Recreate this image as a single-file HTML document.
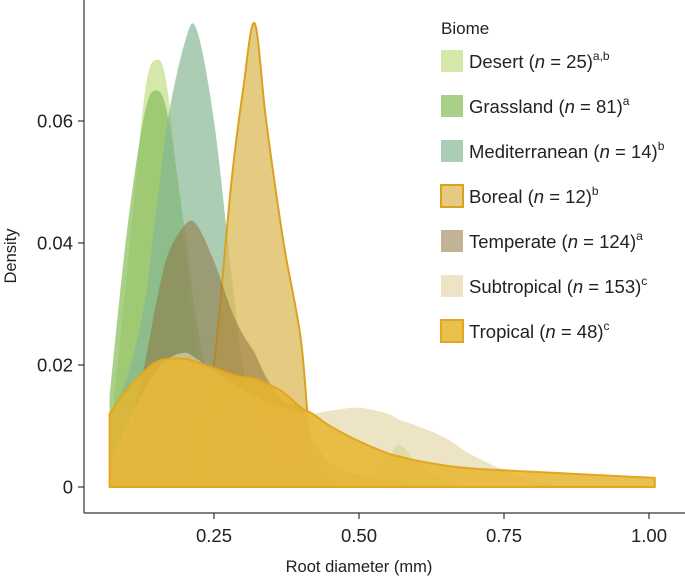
<!DOCTYPE html>
<html><head><meta charset="utf-8"><style>
body{margin:0;background:#fff;}
svg text{font-family:"Liberation Sans",Arial,sans-serif;fill:#222;}
</style></head><body>
<svg id="chart" width="685" height="577" viewBox="0 0 685 577" xmlns="http://www.w3.org/2000/svg">
<g id="plot"></g>
<g id="axes"></g>
<g id="legend"></g>
</svg>
<script>
const grid = [0.07,0.10,0.13,0.15,0.17,0.20,0.22,0.25,0.28,0.30,0.32,0.34,0.37,0.40,0.42,0.45,0.50,0.55,0.57,0.60,0.65,0.70,0.80,0.90,1.01];
const desert = [0.008,0.035,0.064,0.070,0.065,0.038,0.022,0.011,0.006,0.004,0.004,0.003,0.003,0.002,0.002,0.001,0.001,0.005,0.007,0.004,0.001,0,0,0,0];
const grassland = [0.015,0.042,0.061,0.065,0.061,0.042,0.027,0.013,0.006,0.004,0.004,0.003,0.003,0.002,0.002,0.001,0,0,0,0,0,0,0,0,0];
const mediterranean = [0.012,0.018,0.03,0.045,0.06,0.073,0.075,0.06,0.035,0.02,0.01,0.005,0.002,0.001,0,0,0,0,0,0,0,0,0,0,0];
const boreal = [0,0,0,0,0,0,0.002,0.02,0.05,0.065,0.076,0.06,0.04,0.024,0.004,0,0,0,0,0,0,0,0,0,0];
const temperate = [0.002,0.008,0.02,0.03,0.038,0.043,0.043,0.037,0.029,0.025,0.022,0.018,0.014,0.013,0.008,0.004,0.002,0.001,0.001,0,0,0,0,0,0];
const subtropical = [0.004,0.01,0.016,0.019,0.021,0.022,0.021,0.019,0.017,0.016,0.015,0.014,0.013,0.012,0.012,0.0125,0.013,0.012,0.011,0.010,0.008,0.005,0.001,0,0];
const tropical = [0.012,0.016,0.019,0.0205,0.021,0.021,0.0205,0.0195,0.0185,0.018,0.0178,0.017,0.0155,0.013,0.012,0.01,0.0075,0.0055,0.005,0.0043,0.0035,0.003,0.0025,0.002,0.0015];
const seriesNames = ["Desert","Grassland","Mediterranean","Boreal","Temperate","Subtropical","Tropical"];
const seriesN = ["25","81","14","12","124","153","48"];
const seriesSup = ["a,b","a","b","b","a","c","c"];
const xTicks = [0.25,0.50,0.75,1.00];
const xTickLabels = ["0.25","0.50","0.75","1.00"];
const yTicks = [0,0.02,0.04,0.06];
const yTickLabels = ["0","0.02","0.04","0.06"];

const NS="http://www.w3.org/2000/svg";
const xs = v => 69 + v*580;
const ys = v => 487 - v*6100;
const styles = [
 {fill:"#c8df8e",op:0.75,stroke:"none"},
 {fill:"#8cc060",op:0.75,stroke:"none"},
 {fill:"#86b894",op:0.7,stroke:"none"},
 {fill:"#dcb957",op:0.75,stroke:"#d9a21f"},
 {fill:"#8f7440",op:0.55,stroke:"none"},
 {fill:"#e3d6a6",op:0.65,stroke:"none"},
 {fill:"#e6b52e",op:0.85,stroke:"#e3a620"}
];
const allData=[desert,grassland,mediterranean,boreal,temperate,subtropical,tropical];
function mk(tag,attrs,parent){const e=document.createElementNS(NS,tag);for(const k in attrs)e.setAttribute(k,attrs[k]);parent.appendChild(e);return e;}
function curve(vals){
  const pts=grid.map((g,i)=>[xs(g),ys(vals[i])]);
  let d=`M${xs(grid[0])},${ys(0)}L${pts[0][0]},${pts[0][1]}`;
  for(let i=0;i<pts.length-1;i++){
    const p0=pts[Math.max(0,i-1)],p1=pts[i],p2=pts[i+1],p3=pts[Math.min(pts.length-1,i+2)];
    let c1y=p1[1]+(p2[1]-p0[1])/6, c2y=p2[1]-(p3[1]-p1[1])/6;
    c1y=Math.min(c1y,487); c2y=Math.min(c2y,487);
    d+=`C${p1[0]+(p2[0]-p0[0])/6},${c1y} ${p2[0]-(p3[0]-p1[0])/6},${c2y} ${p2[0]},${p2[1]}`;
  }
  d+=`L${xs(grid[grid.length-1])},${ys(0)}Z`;
  return d;
}
const plot=document.getElementById('plot');
allData.forEach((vals,i)=>{
  const s=styles[i];
  const p=mk('path',{d:curve(vals),fill:s.fill,'fill-opacity':s.op,stroke:s.stroke,'stroke-width':2,'stroke-linejoin':'round'},plot);
  
  
});
const axes=document.getElementById('axes');
const yl=mk('line',{x1:84,y1:0,x2:84,y2:513,stroke:'#333','stroke-width':1.2},axes);


const xl=mk('line',{x1:84,y1:513,x2:685,y2:513,stroke:'#333','stroke-width':1.2},axes);


yTicks.forEach((t,i)=>{
  const tk=mk('line',{x1:78,x2:84,y1:ys(t),y2:ys(t),stroke:'#333','stroke-width':1.2},axes);
  
  
  const tx=mk('text',{x:73,y:ys(t)+6.5,'text-anchor':'end','font-size':18.5},axes);
  tx.textContent=yTickLabels[i];
  
  
});
xTicks.forEach((t,i)=>{
  const tk=mk('line',{x1:xs(t),x2:xs(t),y1:513,y2:519,stroke:'#333','stroke-width':1.2},axes);
  
  
  const tx=mk('text',{x:xs(t),y:542,'text-anchor':'middle','font-size':18.5},axes);
  tx.textContent=xTickLabels[i];
  
  
});
const xt=mk('text',{x:359,y:572,'text-anchor':'middle','font-size':16.5},axes);
xt.textContent='Root diameter (mm)';


const yt=mk('text',{x:0,y:0,'text-anchor':'middle','font-size':16.5,transform:'translate(16,256) rotate(-90)'},axes);
yt.textContent='Density';



const lg=document.getElementById('legend');
const lt=mk('text',{x:441,y:34,'font-size':17},lg);
lt.textContent='Biome';


seriesNames.forEach((n,i)=>{
  const cy=61+i*45, s=styles[i];
  const g=mk('g',{},lg);
  
  
  mk('rect',{x:441,y:cy-11,width:22,height:22,fill:s.fill,'fill-opacity':s.op,stroke:s.stroke,'stroke-width':2},g);
  const t=mk('text',{x:469,y:cy+7,'font-size':18.5},g);
  t.innerHTML=`${n} (<tspan font-style="italic">n</tspan> = ${seriesN[i]})<tspan font-size="12" dy="-8">${seriesSup[i]}</tspan>`;
});
</script>
</body></html>
